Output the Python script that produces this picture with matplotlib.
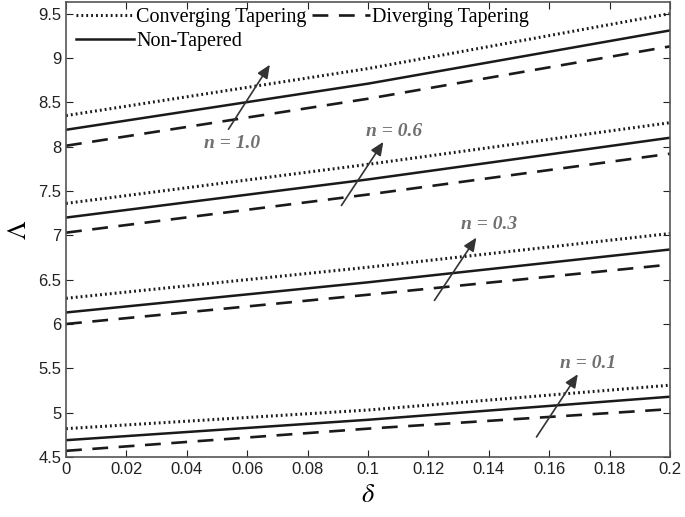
import matplotlib
matplotlib.use("Agg")
import matplotlib.pyplot as plt

plt.rcParams["mathtext.fontset"] = "stix"

delta = [0.0, 0.1, 0.2]
n_labels = ["n = 1.0", "n = 0.6", "n = 0.3", "n = 0.1"]
converging = [
    [8.35, 8.88, 9.50],
    [7.36, 7.80, 8.27],
    [6.29, 6.64, 7.02],
    [4.82, 5.03, 5.31],
]
non_tapered = [
    [8.19, 8.71, 9.31],
    [7.20, 7.63, 8.10],
    [6.13, 6.47, 6.84],
    [4.69, 4.92, 5.18],
]
diverging = [
    [8.01, 8.54, 9.13],
    [7.03, 7.46, 7.92],
    [6.00, 6.33, 6.67],
    [4.57, 4.82, 5.04],
]
# arrow tail, head and label positions (data coords)
arrow_tail = [(0.0533, 8.17), (0.0907, 7.31), (0.1215, 6.24), (0.1553, 4.70)]
arrow_head = [(0.0680, 8.95), (0.1056, 8.08), (0.1364, 7.00), (0.1700, 5.46)]
label_pos = [(0.0550, 8.04), (0.1085, 8.17), (0.1400, 7.12), (0.1730, 5.55)]

fig = plt.figure(figsize=(6.85, 5.17), dpi=100)
ax = fig.add_axes([0.0964, 0.116, 0.8816, 0.880])

col = "#1a1a1a"
for i in range(len(n_labels)):
    l1, = ax.plot(delta, converging[i], color=col, lw=2.2, linestyle=(0, (0.6, 1.0)))
    l2, = ax.plot(delta, non_tapered[i], color=col, lw=1.8, linestyle="-")
    l3, = ax.plot(delta, diverging[i], color=col, lw=1.9, linestyle=(0, (6, 4)))
    ax.annotate("", xy=arrow_head[i], xytext=arrow_tail[i],
                arrowprops=dict(arrowstyle="-|>,head_length=0.8,head_width=0.35",
                                color="#333333", lw=1.2))
    ax.text(label_pos[i][0], label_pos[i][1], n_labels[i], ha="center", va="center",
            fontsize=14, fontstyle="italic", fontweight="bold", color="#707070",
            family="Liberation Serif")

ax.legend([l1, l2, l3], ["Converging Tapering", "Non-Tapered", "Diverging Tapering"],
          ncol=2, loc="upper left", frameon=False, prop=dict(family="Liberation Serif", size=14.5),
          handlelength=2.9, handletextpad=0.1, columnspacing=0.25, labelspacing=0.25,
          borderaxespad=0.0, bbox_to_anchor=(0.003, 1.005))

ax.set_xlim(0, 0.2)
ax.set_ylim(4.5, 9.63)
ax.set_xticks([0, 0.02, 0.04, 0.06, 0.08, 0.1, 0.12, 0.14, 0.16, 0.18, 0.2])
ax.set_xticklabels(["0", "0.02", "0.04", "0.06", "0.08", "0.1", "0.12", "0.14", "0.16", "0.18", "0.2"])
ax.set_yticks([4.5, 5, 5.5, 6, 6.5, 7, 7.5, 8, 8.5, 9, 9.5])
ax.set_yticklabels(["4.5", "5", "5.5", "6", "6.5", "7", "7.5", "8", "8.5", "9", "9.5"])
ax.tick_params(direction="in", top=True, right=True, labelsize=12, length=5, colors="#222222")
for lab in ax.get_xticklabels() + ax.get_yticklabels():
    lab.set_family("Liberation Sans")
for s in ax.spines.values():
    s.set_color("#555555")
    s.set_linewidth(1.2)

ax.set_xlabel(r"$\delta$", fontsize=19, labelpad=4)
ax.set_ylabel(r"$\Lambda$", fontsize=19, labelpad=4)

fig.savefig("out.png", dpi=100)
